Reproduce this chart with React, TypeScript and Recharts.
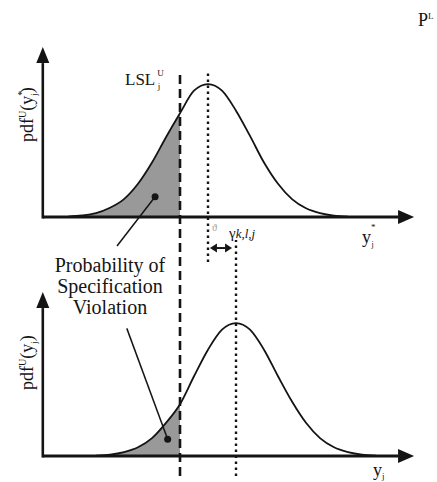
import {
  Area,
  ComposedChart,
  Line,
  ReferenceDot,
  ReferenceLine,
  XAxis,
  YAxis,
} from "recharts";

// x in "spacing units" (LSL at 0), y = pdf height relative to peak
const topX = [-4, -3.5, -3, -2.5, -2, -1.5, -1, -0.5, 0, 0.5, 1, 1.5, 2, 2.5, 3, 3.5, 4, 4.5, 5, 5.5, 6];
const topPdf = [0.004, 0.012, 0.03, 0.07, 0.135, 0.25, 0.41, 0.6, 0.78, 0.95, 1, 0.95, 0.8, 0.61, 0.41, 0.25, 0.135, 0.066, 0.03, 0.011, 0.004];
const bottomX = [-3, -2.5, -2, -1.5, -1, -0.5, 0, 0.5, 1, 1.5, 2, 2.5, 3, 3.5, 4, 4.5, 5, 5.5, 6, 6.5, 7];
const bottomPdf = [0.004, 0.011, 0.03, 0.066, 0.135, 0.25, 0.39, 0.6, 0.8, 0.95, 1, 0.95, 0.8, 0.6, 0.41, 0.25, 0.135, 0.066, 0.03, 0.011, 0.004];

const lsl = 0;
const topMean = 1;
const bottomMean = 2;
const axisX = -4.9;
const axisEnd = 8.36;

const topCurve = topX.map((x, i) => ({ x, y: topPdf[i] }));
const bottomCurve = bottomX.map((x, i) => ({ x, y: bottomPdf[i] }));
const topShade = topCurve.filter((p) => p.x <= lsl);
const bottomShade = bottomCurve.filter((p) => p.x <= lsl);

const serif = "'Liberation Serif', 'Times New Roman', serif";
const ink = "#141414";

function arrowShape(head: number, half: number, width: number, both = false) {
  return (p: any) => {
    const { x1, y1, x2, y2 } = p;
    const dx = x2 - x1;
    const dy = y2 - y1;
    const len = Math.hypot(dx, dy) || 1;
    const ux = dx / len;
    const uy = dy / len;
    const nx = -uy;
    const ny = ux;
    const bx = x2 - ux * head;
    const by = y2 - uy * head;
    const sx = both ? x1 + ux * head : x1;
    const sy = both ? y1 + uy * head : y1;
    const tri = (tx: number, ty: number, cx: number, cy: number) =>
      `${tx},${ty} ${cx + nx * half},${cy + ny * half} ${cx - nx * half},${cy - ny * half}`;
    return (
      <g>
        <line x1={sx} y1={sy} x2={bx} y2={by} stroke={ink} strokeWidth={width} />
        <polygon points={tri(x2, y2, bx, by)} fill={ink} />
        {both && <polygon points={tri(x1, y1, sx, sy)} fill={ink} />}
      </g>
    );
  };
}

function Labels() {
  return (
    <svg
      width={437}
      height={482}
      style={{ position: "absolute", left: 0, top: 0, pointerEvents: "none" }}
      fontFamily={serif}
      fill={ink}
    >
      <text x={418} y={26} fontSize={18}>
        P<tspan fontSize={9} dy={-7}>L</tspan>
      </text>
      <text x={125} y={85} fontSize={17}>
        LSL<tspan fontSize={9} dx={2} dy={-9}>U</tspan>
        <tspan fontSize={9} dx={-6} dy={13}>j</tspan>
      </text>
      <text transform="translate(33,142) rotate(-90)" fontSize={18}>
        pdf<tspan fontSize={10} dy={-7}>U</tspan>
        <tspan dy={7}>(y</tspan>
        <tspan fontSize={10} dy={-8}>*</tspan>
        <tspan fontSize={9} dx={-5} dy={12}>j</tspan>
        <tspan dy={-4}>)</tspan>
      </text>
      <text transform="translate(33,390) rotate(-90)" fontSize={18}>
        pdf<tspan fontSize={10} dy={-7}>U</tspan>
        <tspan dy={7}>(y</tspan>
        <tspan fontSize={9} dy={4}>j</tspan>
        <tspan dy={-4}>)</tspan>
      </text>
      <text x={362} y={243} fontSize={18}>
        y<tspan fontSize={9} dx={0} dy={-13}>*</tspan>
        <tspan fontSize={8} dx={-4} dy={17}>j</tspan>
      </text>
      <text x={373} y={476} fontSize={18}>
        y<tspan fontSize={9} dy={3}>j</tspan>
      </text>
      <text x={212} y={231} fontSize={10} fill="#999">
        ϑ
      </text>
      <text x={229} y={238} fontSize={15}>
        γ<tspan fontStyle="italic" fontSize={13}>k,l,j</tspan>
      </text>
      <g fontSize={20} textAnchor="middle">
        <text x={110} y={272}>Probability of</text>
        <text x={110} y={293}>Specification</text>
        <text x={110} y={314}>Violation</text>
      </g>
    </svg>
  );
}

export default function App() {
  return (
    <div
      style={{
        position: "absolute",
        left: 0,
        top: 0,
        width: 437,
        height: 482,
        background: "#fff",
      }}
    >
      <ComposedChart
        width={437}
        height={482}
        margin={{ top: 0, right: 5, bottom: 0, left: 40 }}
      >
        <XAxis type="number" dataKey="x" domain={[-5, 9]} hide allowDataOverflow />
        <YAxis yAxisId="t" type="number" domain={[-1.992, 1.632]} hide allowDataOverflow />
        <YAxis yAxisId="b" type="number" domain={[-0.195, 3.429]} hide allowDataOverflow />

        <Area
          yAxisId="t"
          data={topShade}
          dataKey="y"
          type="monotone"
          baseValue={0}
          fill="#999999"
          fillOpacity={1}
          stroke="none"
          isAnimationActive={false}
        />
        <Area
          yAxisId="b"
          data={bottomShade}
          dataKey="y"
          type="monotone"
          baseValue={0}
          fill="#999999"
          fillOpacity={1}
          stroke="none"
          isAnimationActive={false}
        />
        <Line
          yAxisId="t"
          data={topCurve}
          dataKey="y"
          type="monotone"
          stroke={ink}
          strokeWidth={1.8}
          dot={false}
          isAnimationActive={false}
        />
        <Line
          yAxisId="b"
          data={bottomCurve}
          dataKey="y"
          type="monotone"
          stroke={ink}
          strokeWidth={1.8}
          dot={false}
          isAnimationActive={false}
        />

        {/* spec limit and means */}
        <ReferenceLine
          yAxisId="b"
          segment={[{ x: lsl, y: -0.15 }, { x: lsl, y: 2.902 }]}
          stroke={ink}
          strokeWidth={2.6}
          strokeDasharray="9 5"
        />
        <ReferenceLine
          yAxisId="t"
          segment={[{ x: topMean, y: -0.338 }, { x: topMean, y: 1.105 }]}
          stroke={ink}
          strokeWidth={2.4}
          strokeDasharray="2.5 3.5"
        />
        <ReferenceLine
          yAxisId="b"
          segment={[{ x: bottomMean, y: -0.15 }, { x: bottomMean, y: 1.624 }]}
          stroke={ink}
          strokeWidth={2.4}
          strokeDasharray="2.5 3.5"
        />
        <ReferenceLine
          yAxisId="b"
          segment={[{ x: 1.07, y: 1.564 }, { x: 1.86, y: 1.564 }]}
          shape={arrowShape(7, 4.5, 2, true)}
        />

        {/* axes */}
        <ReferenceLine
          yAxisId="t"
          segment={[{ x: axisX, y: 0 }, { x: axisEnd, y: 0 }]}
          shape={arrowShape(16, 7, 3)}
        />
        <ReferenceLine
          yAxisId="t"
          segment={[{ x: axisX, y: -0.011 }, { x: axisX, y: 1.278 }]}
          shape={arrowShape(16, 6.5, 2.6)}
        />
        <ReferenceLine
          yAxisId="b"
          segment={[{ x: axisX, y: 0 }, { x: axisEnd, y: 0 }]}
          shape={arrowShape(16, 7, 3)}
        />
        <ReferenceLine
          yAxisId="b"
          segment={[{ x: axisX, y: -0.011 }, { x: axisX, y: 1.233 }]}
          shape={arrowShape(16, 6.5, 2.6)}
        />

        {/* leaders */}
        <ReferenceLine
          yAxisId="t"
          segment={[{ x: -2.25, y: -0.218 }, { x: -0.89, y: 0.153 }]}
          stroke={ink}
          strokeWidth={1.5}
        />
        <ReferenceDot yAxisId="t" x={-0.89} y={0.153} r={3.5} fill={ink} stroke="none" />
        <ReferenceLine
          yAxisId="b"
          segment={[{ x: -1.9, y: 0.96 }, { x: -0.44, y: 0.126 }]}
          stroke={ink}
          strokeWidth={1.5}
        />
        <ReferenceDot yAxisId="b" x={-0.44} y={0.126} r={3.5} fill={ink} stroke="none" />
      </ComposedChart>
      <Labels />
    </div>
  );
}
